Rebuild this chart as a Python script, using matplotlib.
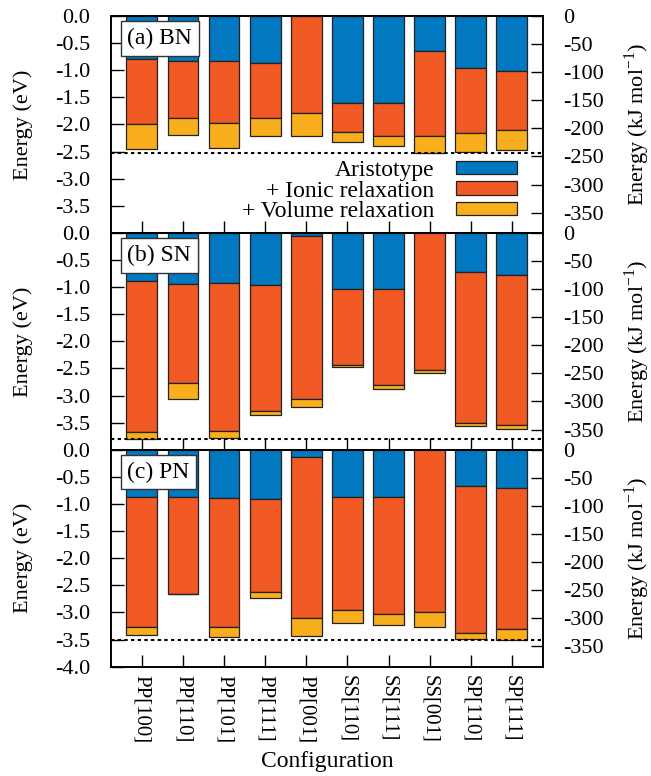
import numpy as np
import matplotlib
matplotlib.use('Agg')
import matplotlib.pyplot as plt

plt.rcParams['font.family'] = 'Liberation Serif'
plt.rcParams['mathtext.fontset'] = 'custom'
plt.rcParams['mathtext.rm'] = 'Liberation Serif'
plt.rcParams['axes.unicode_minus'] = False

# ── data (eV), cumulative energies per stage ─────────────
configs = ['PP[100]', 'PP[110]', 'PP[101]', 'PP[111]', 'PP[001]',
           'SS[110]', 'SS[111]', 'SS[001]', 'SP[110]', 'SP[111]']

bn_aristo = [-0.80, -0.83, -0.83, -0.87, 0.00, -1.61, -1.61, -0.64, -0.96, -1.02]
bn_ionic  = [-1.99, -1.88, -1.97, -1.88, -1.79, -2.14, -2.22, -2.22, -2.16, -2.10]
bn_volume = [-2.46, -2.19, -2.44, -2.21, -2.22, -2.33, -2.40, -2.53, -2.50, -2.47]

sn_aristo = [-0.89, -0.94, -0.93, -0.97, -0.05, -1.03, -1.04, 0.00, -0.72, -0.77]
sn_ionic  = [-3.68, -2.76, -3.65, -3.28, -3.06, -2.43, -2.80, -2.53, -3.51, -3.55]
sn_volume = [-3.80, -3.06, -3.78, -3.36, -3.21, -2.48, -2.88, -2.58, -3.57, -3.62]

pn_aristo = [-0.87, -0.88, -0.89, -0.91, -0.14, -0.88, -0.88, 0.00, -0.67, -0.70]
pn_ionic  = [-3.26, -2.66, -3.26, -2.63, -3.10, -2.96, -3.03, -2.99, -3.37, -3.30]
pn_volume = [-3.41, -2.66, -3.45, -2.73, -3.43, -3.19, -3.24, -3.27, -3.49, -3.51]

panels = [('(a) BN', bn_aristo, bn_ionic, bn_volume),
          ('(b) SN', sn_aristo, sn_ionic, sn_volume),
          ('(c) PN', pn_aristo, pn_ionic, pn_volume)]

EV_TO_KJ = 96.485
c_aristo = '#0178BF'
c_ionic  = '#F15A24'
c_volume = '#F9AE1D'
edge = '#222222'

# ── plot ─────────────────────────────────────────────────
fig, axes = plt.subplots(3, 1, figsize=(6.51, 7.76), dpi=100, sharex=True)
fig.subplots_adjust(left=0.1705, right=0.8336, bottom=0.1409, top=0.9794, hspace=0)

x = np.arange(len(configs))
ev_ticks = np.arange(0, -4.01, -0.5)
kj_ticks = np.arange(0, -351, -50)

for i, (ax, (label, A, I, V)) in enumerate(zip(axes, panels)):
    A = np.array(A); I = np.array(I); V = np.array(V)
    ax.bar(x, A, width=0.75, color=c_aristo, edgecolor=edge, linewidth=0.9,
           label='Aristotype')
    ax.bar(x, I - A, bottom=A, width=0.75, color=c_ionic, edgecolor=edge,
           linewidth=0.9, label='+ Ionic relaxation')
    ax.bar(x, V - I, bottom=I, width=0.75, color=c_volume, edgecolor=edge,
           linewidth=0.9, label='+ Volume relaxation')
    ax.axhline(V.min(), color='black', linestyle=(0, (1.6, 1.6)), linewidth=1.5, zorder=3)

    ax.set_xlim(-0.75, len(configs) - 0.25)
    ax.set_ylim(-4.0, 0.0)
    ax.set_axisbelow(True)

    if i < 2:
        ax.set_yticks(ev_ticks[:-1], labels=[f'{t:.1f}' for t in ev_ticks[:-1]])
    else:
        ax.set_yticks(ev_ticks, labels=[f'{t:.1f}' for t in ev_ticks])
    ax.tick_params(axis='y', direction='in', length=9, width=1, pad=15, labelsize=16)
    ax.tick_params(axis='x', direction='in', length=9, width=1, top=True, bottom=True,
                   pad=6, labelsize=15)
    ax.set_ylabel('Energy (eV)', fontsize=16)
    ax.yaxis.set_label_coords(-0.18, 0.5)

    for s in ax.spines.values():
        s.set_linewidth(1.2)

    ax.text(0.038, 0.945, label, transform=ax.transAxes, ha='left', va='top',
            fontsize=17, zorder=6,
            bbox=dict(boxstyle='square,pad=0.28', fc='white', ec='#333333', lw=1))

    # kJ/mol scale on the right
    ax2 = ax.twinx()
    ax2.set_ylim(-4.0 * EV_TO_KJ, 0.0)
    ax2.set_yticks(kj_ticks, labels=[f'{t:d}' for t in kj_ticks])
    ax2.tick_params(axis='y', direction='in', length=9, width=1, pad=15, labelsize=16)
    ax2.set_ylabel('Energy (kJ mol$^{-1}$)', fontsize=16)
    ax2.yaxis.set_label_coords(1.185, 0.5)
    for s in ax2.spines.values():
        s.set_linewidth(1.2)

axes[0].legend(loc='lower right', bbox_to_anchor=(0.9405, 0.05), markerfirst=False,
               frameon=False, fontsize=17, handlelength=2.6, handleheight=0.5,
               handletextpad=0.9, labelspacing=-0.02, borderaxespad=0, borderpad=0)

axes[2].set_xticks(x, labels=configs, rotation=270)
axes[2].set_xlabel('Configuration', fontsize=17, labelpad=6)

plt.savefig('out.png', dpi=100)
